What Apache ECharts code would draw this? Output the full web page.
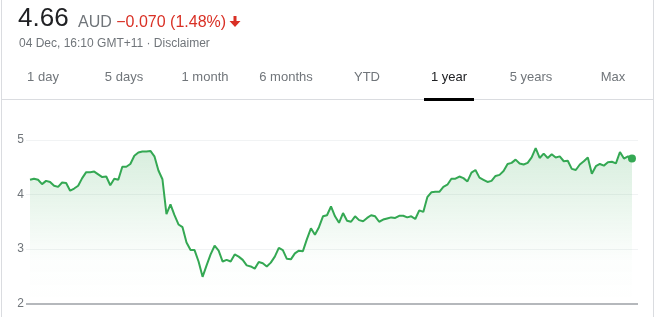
<!DOCTYPE html>
<html>
<head>
<meta charset="utf-8">
<script src="https://cdn.jsdelivr.net/npm/echarts@6/dist/echarts.min.js"></script>
<style>
  html, body { margin: 0; padding: 0; background: #fff; }
  #chart { width: 657px; height: 317px; }
</style>
</head>
<body>
<div id="chart"></div>
<script>
// 1년 주가 (일별, 좌->우)
var prices = [
  4.27, 4.29, 4.27, 4.19, 4.25, 4.23, 4.16, 4.14, 4.22, 4.21,
  4.07, 4.11, 4.16, 4.30, 4.41, 4.41, 4.42, 4.37, 4.32, 4.33,
  4.17, 4.29, 4.27, 4.51, 4.51, 4.56, 4.71, 4.77, 4.79, 4.79,
  4.80, 4.70, 4.44, 4.28, 3.64, 3.82, 3.62, 3.45, 3.40, 3.12,
  2.98, 2.98, 2.77, 2.49, 2.70, 2.90, 3.06, 2.97, 2.77, 2.80,
  2.77, 2.90, 2.86, 2.80, 2.70, 2.68, 2.64, 2.76, 2.74, 2.68,
  2.75, 2.86, 3.02, 2.98, 2.82, 2.81, 2.92, 2.97, 2.96, 3.18,
  3.38, 3.26, 3.40, 3.60, 3.62, 3.78, 3.60, 3.48, 3.66, 3.52,
  3.50, 3.60, 3.53, 3.51, 3.57, 3.62, 3.60, 3.50, 3.54, 3.56,
  3.58, 3.57, 3.61, 3.61, 3.58, 3.60, 3.55, 3.71, 3.68, 3.95,
  4.04, 4.05, 4.05, 4.14, 4.18, 4.29, 4.29, 4.33, 4.30, 4.24,
  4.40, 4.45, 4.31, 4.27, 4.23, 4.25, 4.34, 4.36, 4.43, 4.56,
  4.58, 4.64, 4.57, 4.55, 4.58, 4.68, 4.85, 4.67, 4.75, 4.67,
  4.74, 4.68, 4.70, 4.61, 4.62, 4.47, 4.45, 4.55, 4.61, 4.68,
  4.38, 4.52, 4.56, 4.53, 4.59, 4.60, 4.57, 4.78, 4.66, 4.70,
  4.66
];
var yTicks = [2, 3, 4, 5];
var tabs = ['1 day', '5 days', '1 month', '6 months', 'YTD', '1 year', '5 years', 'Max'];
var tabCenters = [43, 124, 205, 286, 367, 449, 531, 613];
var activeTab = '1 year';

var lastPrice = '4.66';
var currency = 'AUD ';
var change = '\u22120.070 (1.48%)';
var subLine = '04 Dec, 16:10 GMT+11 \u00b7 Disclaimer';

var FONT = '"Liberation Sans", Arial, sans-serif';
var GREEN = '#34a853';

var seriesData = prices.map(function (v, i) { return [i, v]; });

// 탭 텍스트
var tabGraphics = tabs.map(function (t, i) {
  return {
    type: 'text',
    x: tabCenters[i], y: 77,
    style: {
      text: t,
      font: '13px ' + FONT,
      fill: t === activeTab ? '#202124' : '#70757a',
      textAlign: 'center',
      textVerticalAlign: 'middle'
    }
  };
});

var chart = echarts.init(document.getElementById('chart'));

var option = {
  animation: false,
  grid: { left: 26, right: 19, top: 140, bottom: 13.5 },
  xAxis: {
    type: 'value',
    min: -1,
    max: 151.5,
    show: true,
    axisLine: { show: false },
    axisTick: { show: false },
    axisLabel: { show: false },
    splitLine: { show: false }
  },
  yAxis: {
    type: 'value',
    min: yTicks[0],
    max: yTicks[yTicks.length - 1],
    interval: 1,
    axisLine: { show: false },
    axisTick: { show: false },
    axisLabel: {
      margin: 2,
      color: '#70757a',
      fontSize: 12,
      fontFamily: FONT
    },
    splitLine: {
      show: true,
      lineStyle: { color: '#f1f3f4', width: 1 }
    }
  },
  series: [
    {
      type: 'line',
      data: seriesData,
      showSymbol: false,
      symbol: 'none',
      lineStyle: { color: GREEN, width: 2 },
      areaStyle: {
        origin: 'start',
        color: new echarts.graphic.LinearGradient(0, 0, 0, 1, [
          { offset: 0, color: 'rgba(52,168,83,0.28)' },
          { offset: 0.72, color: 'rgba(52,168,83,0.02)' },
          { offset: 1, color: 'rgba(52,168,83,0)' }
        ])
      },
      markLine: {
        silent: true,
        symbol: 'none',
        label: { show: false },
        lineStyle: { color: '#b5b8bc', width: 2, type: 'solid' },
        data: [{ yAxis: 2 }]
      },
      z: 3
    },
    {
      // 마지막 점
      type: 'scatter',
      data: [seriesData[seriesData.length - 1]],
      symbolSize: 8,
      itemStyle: { color: GREEN, opacity: 1 },
      z: 4
    }
  ],
  graphic: [
    // 테두리
    { type: 'rect', shape: { x: 1, y: 0, width: 1, height: 317 }, style: { fill: '#dadce0' } },
    { type: 'rect', shape: { x: 653, y: 0, width: 1, height: 317 }, style: { fill: '#dadce0' } },
    { type: 'rect', shape: { x: 2, y: 99, width: 651, height: 1 }, style: { fill: '#dadce0' } },
    { type: 'rect', shape: { x: 424, y: 98, width: 50, height: 3 }, style: { fill: '#000' } },
    // 헤더
    {
      type: 'text', x: 18, y: 32,
      style: { text: lastPrice, font: '26px ' + FONT, fill: '#202124', textVerticalAlign: 'bottom' }
    },
    {
      type: 'text', x: 78, y: 31,
      style: {
        text: '{g|' + currency + '}{r|' + change + '}',
        textVerticalAlign: 'bottom',
        rich: {
          g: { fontSize: 16, fontFamily: FONT, fill: '#70757a' },
          r: { fontSize: 16, fontFamily: FONT, fill: '#d93025' }
        }
      }
    },
    {
      type: 'polygon',
      shape: { points: [[233.5, 16], [236.5, 16], [236.5, 21], [240.5, 21], [235, 27], [229.5, 21], [233.5, 21]] },
      style: { fill: '#d93025' }
    },
    {
      type: 'text', x: 19, y: 50,
      style: { text: subLine, font: '12px ' + FONT, fill: '#70757a', textVerticalAlign: 'bottom' }
    }
  ].concat(tabGraphics)
};

chart.setOption(option);
</script>
</body>
</html>
